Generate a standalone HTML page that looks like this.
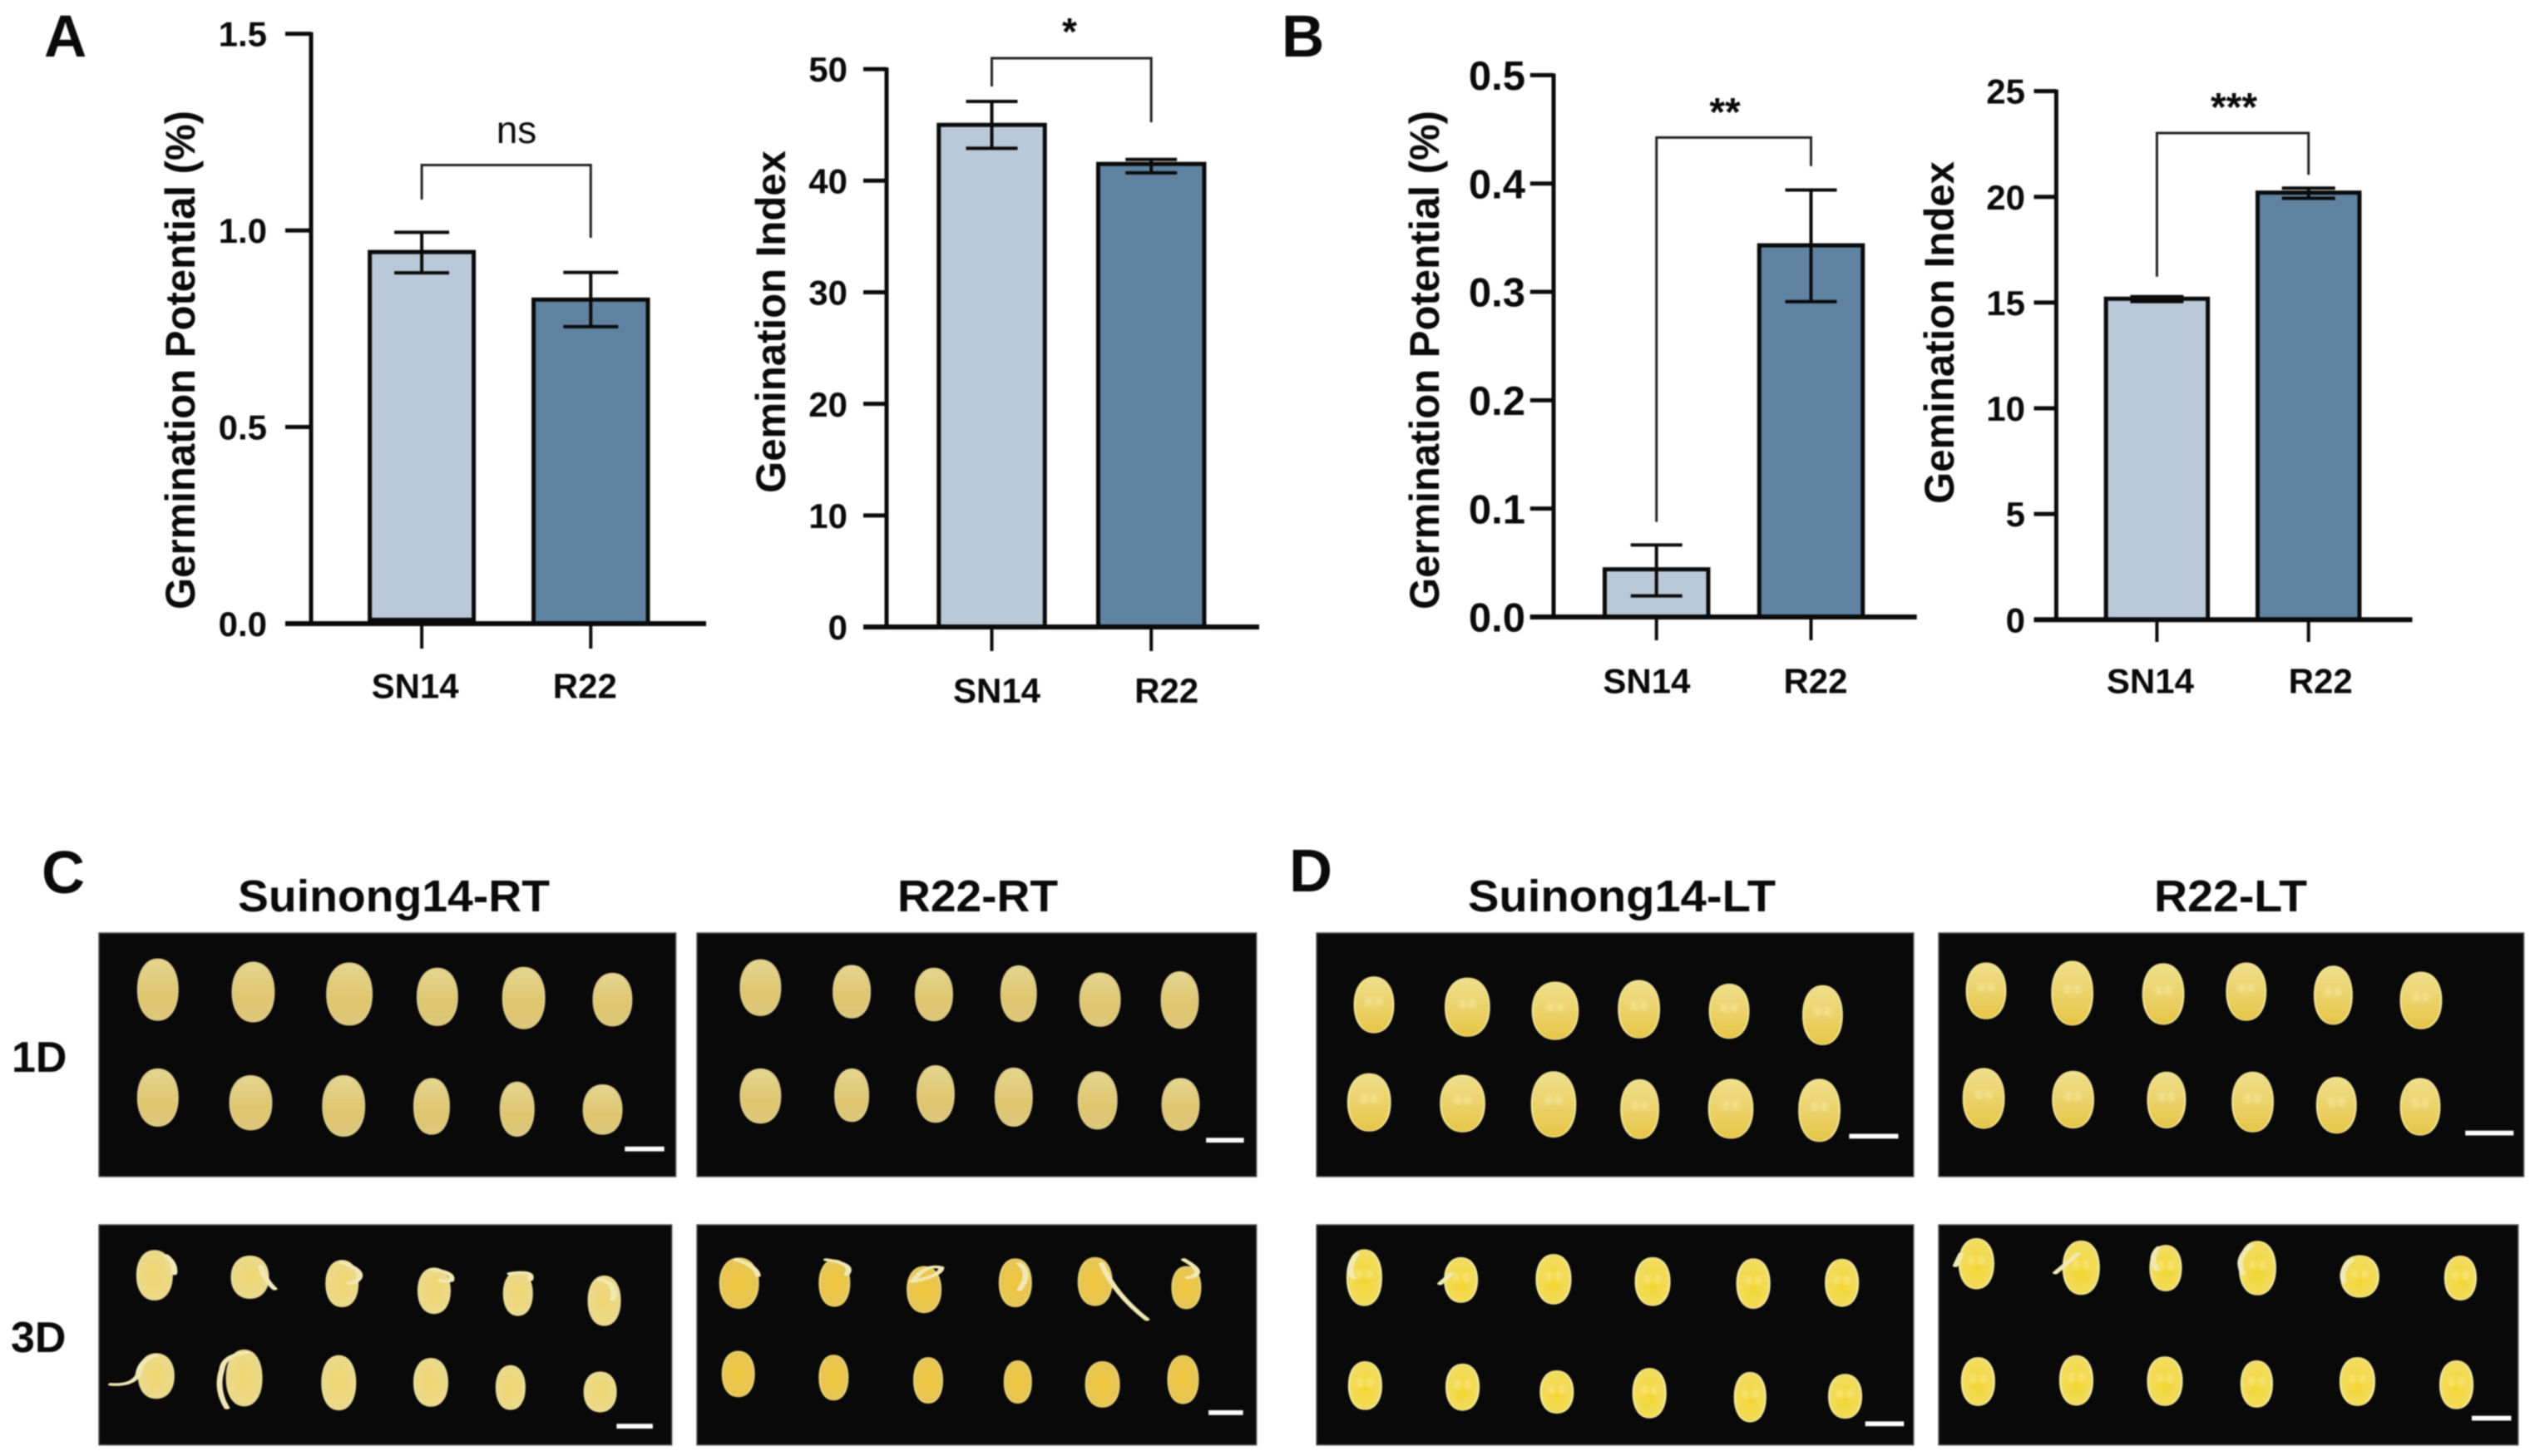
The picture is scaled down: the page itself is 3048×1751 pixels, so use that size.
<!DOCTYPE html>
<html lang="en">
<head>
<meta charset="utf-8">
<title>Germination charts and seed photos</title>
<style>
html,body{margin:0;padding:0;background:#fff}
svg{display:block;filter:blur(.7px)}
text{font-family:"Liberation Sans",Arial,sans-serif;fill:#0a0a0a}
.b{font-weight:bold}
</style>
</head>
<body>
<svg id="fig" xmlns="http://www.w3.org/2000/svg" width="3048" height="1751" viewBox="0 0 3048 1751">
<defs>
<linearGradient id="gPale" x1="0" y1="0" x2="0" y2="1"><stop offset="0" stop-color="#e4d690"/><stop offset=".6" stop-color="#dfc56e"/><stop offset="1" stop-color="#dcc87c"/></linearGradient>
<radialGradient id="gSprout" cx="50%" cy="50%" r="65%"><stop offset="0" stop-color="#efd56f"/><stop offset="1" stop-color="#eadb94"/></radialGradient>
<radialGradient id="gAmber" cx="50%" cy="50%" r="65%"><stop offset="0" stop-color="#f0c63a"/><stop offset="1" stop-color="#e4c560"/></radialGradient>
<linearGradient id="gCream" x1="0" y1="0" x2="0" y2="1"><stop offset="0" stop-color="#efdf8c"/><stop offset="1" stop-color="#e6c548"/></linearGradient>
<radialGradient id="gYellow" cx="50%" cy="55%" r="65%"><stop offset="0" stop-color="#f3d52e"/><stop offset="1" stop-color="#f0de70"/></radialGradient>
<filter id="soft" x="-100%" y="-100%" width="300%" height="300%"><feGaussianBlur stdDeviation="3"/></filter>
</defs>

<g id="photos" stroke="#555" stroke-width="1.5">
<rect x="119" y="1122" width="693.6" height="293" fill="#090909"/>
<rect x="838" y="1122" width="672.7" height="293" fill="#090909"/>
<rect x="119" y="1473" width="688.7" height="264.7" fill="#090909"/>
<rect x="838" y="1473" width="672.7" height="264.7" fill="#090909"/>
<rect x="1583" y="1122" width="717.8" height="293" fill="#090909"/>
<rect x="2331" y="1122" width="703.5" height="293" fill="#090909"/>
<rect x="1583" y="1473" width="717.8" height="264.7" fill="#090909"/>
<rect x="2331" y="1473" width="696.7" height="264.7" fill="#090909"/>
</g>
<g id="seedsC" transform="translate(0,1000) scale(.9885,.479)"></g>
<g id="seedsD" transform="translate(1530,1000) scale(.9684,.479)"></g>

<g>
<text class="b" x="53" y="68" font-size="71">A</text>
<text class="b" x="1541" y="68" font-size="71">B</text>
<text class="b" x="50" y="1074" font-size="72">C</text>
<text class="b" x="1550" y="1072" font-size="72">D</text>
</g>

<g>
<text class="b" x="286" y="1096" font-size="54" textLength="375" lengthAdjust="spacingAndGlyphs">Suinong14-RT</text>
<text class="b" x="1079" y="1096" font-size="54" textLength="193" lengthAdjust="spacingAndGlyphs">R22-RT</text>
<text class="b" x="1765" y="1096" font-size="54" textLength="370" lengthAdjust="spacingAndGlyphs">Suinong14-LT</text>
<text class="b" x="2590" y="1096" font-size="54" textLength="184" lengthAdjust="spacingAndGlyphs">R22-LT</text>
<text class="b" x="14" y="1289" font-size="52">1D</text>
<text class="b" x="13" y="1626" font-size="52">3D</text>
</g>

<g>
<text class="b" transform="translate(234,733) rotate(-90)" font-size="50" textLength="600" lengthAdjust="spacingAndGlyphs">Germination Potential (%)</text>
<text class="b" transform="translate(944,593) rotate(-90)" font-size="50" textLength="412" lengthAdjust="spacingAndGlyphs">Gemination Index</text>
<text class="b" transform="translate(1730,733) rotate(-90)" font-size="50" textLength="600" lengthAdjust="spacingAndGlyphs">Germination Potential (%)</text>
<text class="b" transform="translate(2349,606) rotate(-90)" font-size="50" textLength="412" lengthAdjust="spacingAndGlyphs">Gemination Index</text>
</g>

<g id="charts"></g>
</svg>

<script>
// ---- chart data ----
const categories = ['SN14', 'R22'];

const a1Means = [0.945, 0.824];
const a1Lower = [0.892, 0.755];
const a1Upper = [0.995, 0.893];
const a1Ticks = [0, 0.5, 1.0, 1.5];
const a1TickLabels = ['0.0', '0.5', '1.0', '1.5'];
const a1Sig = 'ns';

const a2Means = [45.0, 41.5];
const a2Lower = [42.9, 40.7];
const a2Upper = [47.1, 41.9];
const a2Ticks = [0, 10, 20, 30, 40, 50];
const a2TickLabels = ['0', '10', '20', '30', '40', '50'];
const a2Sig = '*';

const b1Means = [0.044, 0.343];
const b1Lower = [0.0195, 0.291];
const b1Upper = [0.0665, 0.394];
const b1Ticks = [0, 0.1, 0.2, 0.3, 0.4, 0.5];
const b1TickLabels = ['0.0', '0.1', '0.2', '0.3', '0.4', '0.5'];
const b1Sig = '**';

const b2Means = [15.18, 20.2];
const b2Lower = [15.05, 19.93];
const b2Upper = [15.28, 20.41];
const b2Ticks = [0, 5, 10, 15, 20, 25];
const b2TickLabels = ['0', '5', '10', '15', '20', '25'];
const b2Sig = '***';

// ---- chart layout ----
const NS = 'http://www.w3.org/2000/svg';
const BAR_FILLS = ['#b9c9d9', '#5f83a1'];

function node(tag, attrs, parent, text) {
  const el = document.createElementNS(NS, tag);
  for (const k in attrs) el.setAttribute(k, attrs[k]);
  if (text !== undefined) el.textContent = text;
  parent.appendChild(el);
  return el;
}

function drawChart(id, means, lower, upper, ticks, tickLabels, sig, g) {
  const root = document.getElementById('charts');
  const chart = node('g', {}, root);
  
  
  const yScale = v => g.y0 + (v - ticks[0]) / (ticks[ticks.length - 1] - ticks[0]) * (g.yTop - g.y0);
  const xScale = i => g.x0 + i * g.step;

  // bars
  means.forEach((m, i) => {
    const cx = xScale(i), w = g.barW[i];
    const bar = node('rect', { x: cx - w / 2, y: yScale(m), width: w, height: g.y0 - yScale(m), fill: BAR_FILLS[i], stroke: '#0a0a0a', 'stroke-width': 5 }, chart);
    
    
  });
  if (g.baseMark) {
    const mark = node('rect', { x: xScale(0) - g.barW[0] / 2, y: yScale(g.baseMark), width: g.barW[0], height: g.y0 - yScale(g.baseMark), fill: '#0a0a0a' }, chart);
    
    
  }

  // error bars
  means.forEach((m, i) => {
    const cx = xScale(i);
    const err = node('path', {
      d: 'M' + cx + ' ' + yScale(upper[i]) + 'V' + yScale(lower[i]) +
         'M' + (cx - g.cap) + ' ' + yScale(upper[i]) + 'H' + (cx + g.cap) +
         'M' + (cx - g.cap) + ' ' + yScale(lower[i]) + 'H' + (cx + g.cap),
      fill: 'none', stroke: '#0a0a0a', 'stroke-width': 4
    }, chart);
    
    
  });

  // y axis
  const yAxis = node('line', { x1: g.xAxis, x2: g.xAxis, y1: yScale(ticks[ticks.length - 1]) - 2, y2: g.y0 + 2, stroke: '#0a0a0a', 'stroke-width': 5 }, chart);
  
  
  ticks.forEach((t, i) => {
    const y = yScale(t);
    const tick = node('line', { x1: g.tickStart, x2: g.xAxis, y1: y, y2: y, stroke: '#0a0a0a', 'stroke-width': 5 }, chart);
    
    
    const label = node('text', { x: g.labelRight, y: y + g.tickFont * 0.36, 'text-anchor': 'end', 'font-size': g.tickFont, class: 'b' }, chart, tickLabels[i]);
    
    
  });

  // x axis
  const xAxis = node('line', { x1: g.tickStart, x2: g.xEnd, y1: g.y0, y2: g.y0, stroke: '#0a0a0a', 'stroke-width': 6 }, chart);
  
  
  categories.forEach((c, i) => {
    const tick = node('line', { x1: xScale(i), x2: xScale(i), y1: g.y0, y2: g.tickBottom, stroke: '#0a0a0a', 'stroke-width': 4 }, chart);
    
    
    const label = node('text', { x: xScale(i) + g.labelShift[i], y: g.labelBase, 'text-anchor': 'middle', 'font-size': 42, class: 'b' }, chart, c);
    
    
  });

  // significance bracket
  const br = node('path', {
    d: 'M' + xScale(0) + ' ' + g.brLeft + 'V' + g.brTop + 'H' + xScale(1) + 'V' + g.brRight,
    fill: 'none', stroke: '#222', 'stroke-width': 3
  }, chart);
  
  
  const sigText = node('text', { x: g.sigX, y: g.sigY, 'text-anchor': 'middle', 'font-size': g.sigFont, class: sig === 'ns' ? '' : 'b' }, chart, sig);
  
  
}

drawChart('a1', a1Means, a1Lower, a1Upper, a1Ticks, a1TickLabels, a1Sig, {
  x0: 507.1, step: 203.2, barW: [125, 137.5], cap: 33, y0: 750, yTop: 40.6, xAxis: 374, tickStart: 343, xEnd: 849,
  labelRight: 321, tickFont: 42, tickBottom: 780, labelBase: 839.3, labelShift: [-8, -7], brTop: 198.5, brLeft: 240, brRight: 286,
  sigX: 621, sigY: 172, sigFont: 46, baseMark: 0.015
});
drawChart('a2', a2Means, a2Lower, a2Upper, a2Ticks, a2TickLabels, a2Sig, {
  x0: 1192.5, step: 191.7, barW: [127.5, 127.5], cap: 31, y0: 754, yTop: 83.1, xAxis: 1066, tickStart: 1038, xEnd: 1514,
  labelRight: 1019, tickFont: 42, tickBottom: 783, labelBase: 845, labelShift: [6, 18.4], brTop: 70, brLeft: 104, brRight: 147,
  sigX: 1286, sigY: 54, sigFont: 46
});
drawChart('b1', b1Means, b1Lower, b1Upper, b1Ticks, b1TickLabels, b1Sig, {
  x0: 1991.7, step: 185.8, barW: [124.5, 124.5], cap: 31, y0: 742, yTop: 90.4, xAxis: 1868, tickStart: 1839.8, xEnd: 2304.7,
  labelRight: 1834, tickFont: 49, tickBottom: 770, labelBase: 833.4, labelShift: [-11.8, 5.5], brTop: 165.4, brLeft: 627.6, brRight: 199.8,
  sigX: 2074, sigY: 151, sigFont: 48
});
drawChart('b2', b2Means, b2Lower, b2Upper, b2Ticks, b2TickLabels, b2Sig, {
  x0: 2593.4, step: 182.3, barW: [122.5, 122.5], cap: 32, y0: 745.2, yTop: 109.6, xAxis: 2472.4, tickStart: 2445.5, xEnd: 2900.5,
  labelRight: 2435, tickFont: 42, tickBottom: 772, labelBase: 833.4, labelShift: [-8, 14.5], brTop: 160, brLeft: 332.7, brRight: 210.2,
  sigX: 2686, sigY: 145, sigFont: 48
});

// ---- seed photographs (illustrative) ----
const seedsRT = [
  ['gPale', '#dcc98a', 0, [[192,397,24,77],[308,403,25,75],[425,408,27,78],[532,415,24,72],[637,418,25,77],[745,422,23,66],[192,668,24,72],[305,681,25,68],[418,689,25,76],[525,690,21,70],[629,697,20,68],[733,698,23,62]]],
  ['gPale', '#dcc98a', 0, [[925,392,24,70],[1036,402,22,66],[1136,409,22,66],[1239,407,21,70],[1338,422,24,67],[1435,423,22,71],[925,664,24,68],[1036,662,20,66],[1138,659,22,71],[1233,667,22,73],[1335,675,23,72],[1436,685,22,65]]],
  ['gSprout', '#eadb94', 0, [[188,1114,21,62],[304,1119,22,53],[416,1135,19,58],[528,1153,19,57],[630,1160,17,55],[735,1178,19,62],[190,1367,21,56],[297,1372,21,70],[412,1384,20,68],[524,1383,20,60],[621,1396,17,55],[730,1407,19,50]]],
  ['gAmber', '#e8d070', 0, [[899,1134,23,63],[1015,1134,18,58],[1124,1150,20,58],[1235,1133,19,60],[1332,1130,20,60],[1443,1145,17,53],[898,1362,19,57],[1014,1371,17,56],[1129,1378,17,57],[1238,1382,16,53],[1341,1388,20,57],[1439,1376,18,60]]]
];
const seedsLT = [
  ['gCream', '#f0e090', 1, [[126,435,24,70],[242,441,27,73],[351,450,28,72],[455,446,25,72],[567,451,24,68],[683,461,24,74],[120,680,26,72],[236,683,27,71],[349,685,27,82],[456,697,23,74],[569,696,27,74],[679,700,25,78]]],
  ['gCream', '#f0e090', 1, [[886,400,24,70],[993,406,25,80],[1106,408,25,76],[1209,402,24,72],[1317,411,23,73],[1426,424,25,71],[883,670,25,75],[994,673,25,71],[1110,674,23,70],[1217,679,25,75],[1321,687,24,70],[1425,691,24,71]]],
  ['gYellow', '#f3e79a', 1, [[114,1120,21,70],[234,1126,20,56],[349,1124,21,62],[472,1130,21,60],[597,1135,20,62],[707,1133,20,59],[115,1391,20,60],[236,1395,20,58],[353,1407,20,53],[468,1410,20,62],[593,1420,19,62],[711,1418,20,55]]],
  ['gYellow', '#f3e79a', 1, [[874,1085,21,63],[1004,1095,22,67],[1109,1096,19,57],[1223,1096,22,67],[1350,1117,23,52],[1475,1121,19,55],[876,1381,20,60],[998,1378,20,62],[1108,1380,21,61],[1222,1387,19,58],[1347,1381,21,60],[1470,1389,20,60]]]
];
const sproutsRT = ['M202 1065Q214 1085 212 1110','M317 1092Q322 1125 334 1148','M415 1081Q442 1100 437 1121Q432 1136 425 1134','M526 1100Q552 1105 549 1127Q542 1132 536 1127','M620 1110Q650 1100 645 1125','M730 1125Q752 1135 745 1175','M190 1315Q170 1325 168 1365Q160 1392 135 1388','M300 1308Q272 1315 270 1350Q262 1400 276 1447','M895 1075Q920 1090 922 1115','M1005 1075Q1040 1085 1030 1112','M1110 1130Q1125 1085 1145 1095Q1145 1115 1110 1130','M1240 1085Q1255 1110 1240 1150','M1340 1085Q1355 1160 1395 1225','M1440 1075Q1470 1110 1445 1120'];
const sproutsLT = ['M105 1060Q92 1090 100 1120','M222 1110L208 1135','M855 1060L848 1090','M1000 1060L972 1108','M1100 1045Q1088 1070 1098 1100','M1215 1040Q1195 1070 1205 1110','M1340 1075Q1325 1100 1330 1130'];
const scaleRT = [[760,808,797],[1467,1513,775],[750,794,1493],[1470,1512,1459]];
const scaleLT = [[716,777,765],[1481,1541,757],[736,784,1487],[1489,1538,1473]];

function seedPath(c, k) {
  const x = c[0], y = c[1], rx = c[2], ry = c[3], kx = rx * k, ky = ry * k;
  return 'M' + x + ' ' + (y - ry) +
    'C' + (x + kx) + ' ' + (y - ry) + ' ' + (x + rx) + ' ' + (y - ky) + ' ' + (x + rx) + ' ' + y +
    'C' + (x + rx) + ' ' + (y + ky) + ' ' + (x + kx) + ' ' + (y + ry) + ' ' + x + ' ' + (y + ry) +
    'C' + (x - kx) + ' ' + (y + ry) + ' ' + (x - rx) + ' ' + (y + ky) + ' ' + (x - rx) + ' ' + y +
    'C' + (x - rx) + ' ' + (y - ky) + ' ' + (x - kx) + ' ' + (y - ry) + ' ' + x + ' ' + (y - ry) + 'Z';
}

function drawSeeds(hostId, groups, sprouts, bars) {
  const host = document.getElementById(hostId);
  groups.forEach(([grad, rim, gloss, list]) => {
    list.forEach(s => {
      const el = node('path', { d: seedPath(s, 0.6), fill: 'url(#' + grad + ')', stroke: rim, 'stroke-width': 2.5 }, host);
      
      
      if (gloss) {
        [-6, 6].forEach(dx => {
          const hi = node('ellipse', { cx: s[0] + dx, cy: s[1] - s[3] * 0.12, rx: 3, ry: 13, fill: '#fff6c0', opacity: 0.55, filter: 'url(#soft)' }, host);
          
          
        });
      }
    });
  });
  sprouts.forEach(d => {
    const el = node('path', { d: d, fill: 'none', stroke: '#f1e9b5', 'stroke-width': 7, 'stroke-linecap': 'round' }, host);
    
    
  });
  bars.forEach(b => {
    const el = node('rect', { x: b[0], y: b[2] - 6, width: b[1] - b[0], height: 12, fill: '#fff' }, host);
    
    
  });
}
drawSeeds('seedsC', seedsRT, sproutsRT, scaleRT);
drawSeeds('seedsD', seedsLT, sproutsLT, scaleLT);
</script>
</body>
</html>
